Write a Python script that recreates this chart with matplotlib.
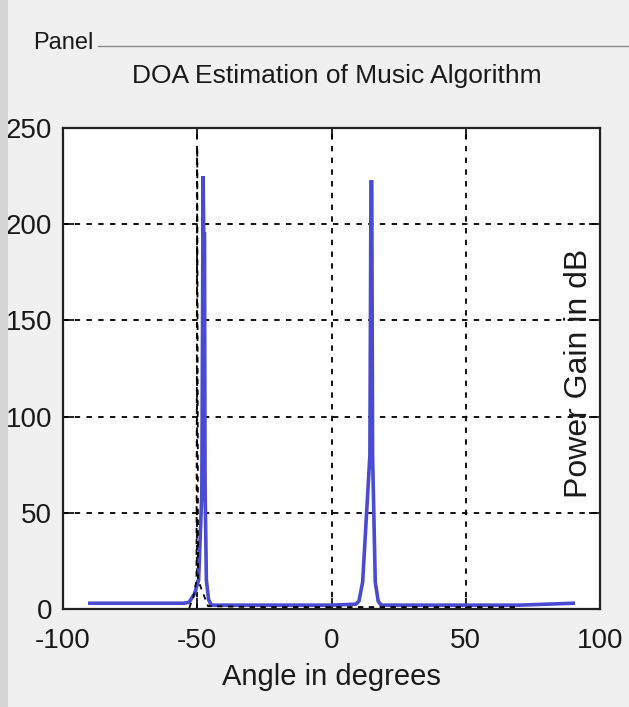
import matplotlib
matplotlib.use("Agg")
import matplotlib.pyplot as plt
from matplotlib.patches import Rectangle
from matplotlib.lines import Line2D

plt.rcParams['font.family'] = ['Liberation Sans', 'DejaVu Sans']

# MUSIC spectrum (blue)
angles = [-90, -70, -55, -53, -51, -49.5, -48.3, -47.8, -47.6, -47.3, -47.1, -46.6, -45.8, -44.8,
          -30, -10, 0, 9, 10.2, 11.6, 14.3, 14.7, 15.0, 15.3, 16.3, 17.4, 18.5, 40, 70, 90]
gain = [3, 3, 3, 3.5, 8, 15, 60, 225, 195, 195, 65, 15, 5, 2,
        2, 2, 2, 2.5, 4, 14, 80, 222, 222, 80, 14, 4, 2, 2, 2, 3]

# second trace (black dashed) close to the floor
angles2 = [-53, -51.5, -50.3, -50.0, -49.7, -46, -30, 0, 5, 12, 18, 50, 70]
gain2 = [0.5, 6, 15, 240, 15, 1.5, 1, 1, 1, 1, 1, 1, 1]

xticks = [-100, -50, 0, 50, 100]
yticks = [0, 50, 100, 150, 200, 250]

bg = '#f0f0f0'
fig = plt.figure(figsize=(6.29, 7.07), dpi=100, facecolor=bg)

# left darker strip and panel frame
fig.patches.append(Rectangle((0, 0), 8 / 629, 1, transform=fig.transFigure,
                             facecolor='#d6d6d6', edgecolor='none', zorder=0))
fig.text(33 / 629, 1 - 43 / 707, 'Panel', fontsize=17, va='center', ha='left', color='#1a1a1a')
fig.lines.append(Line2D([98 / 629, 1], [1 - 46 / 707, 1 - 46 / 707], transform=fig.transFigure,
                        color='#8a8a8a', lw=1.0))
fig.text(337 / 629, 1 - 76 / 707, 'DOA Estimation of Music Algorithm', fontsize=19,
         ha='center', va='center', color='#1a1a1a')

ax = fig.add_axes([63 / 629, 1 - 609 / 707, 537 / 629, 481 / 707])
ax.set_facecolor('white')

ax.plot(angles2, gain2, color='black', lw=1.3, ls=(0, (3, 3)), zorder=3)
ax.plot(angles, gain, color='#4a4ad2', lw=2.6, zorder=2, solid_joinstyle='miter')

ax.set_xlim(-100, 100)
ax.set_ylim(0, 250)
ax.set_xticks(xticks)
ax.set_yticks(yticks)
ax.set_xticklabels([str(t) for t in xticks])
ax.set_yticklabels([str(t) for t in yticks])
ax.tick_params(direction='in', length=8, width=1.2, labelsize=20, colors='black',
               top=True, right=True)
ax.tick_params(axis='y', pad=8)
ax.tick_params(axis='x', pad=14)
for lab in ax.get_xticklabels() + ax.get_yticklabels():
    lab.set_color('#1a1a1a')

ax.grid(True, color='black', lw=1.3, ls=(0, (3, 3.5)), zorder=1)
ax.set_axisbelow(True)
for s in ax.spines.values():
    s.set_linewidth(1.6)
    s.set_color('#222222')

ax.set_xlabel('Angle in degrees', fontsize=21, color='#1a1a1a', labelpad=6)
ax.text(0.960, 0.49, 'Power Gain in dB', transform=ax.transAxes, rotation=90,
        fontsize=23, ha='center', va='center', color='#1a1a1a')

fig.savefig('out.png', dpi=100, facecolor=bg)
